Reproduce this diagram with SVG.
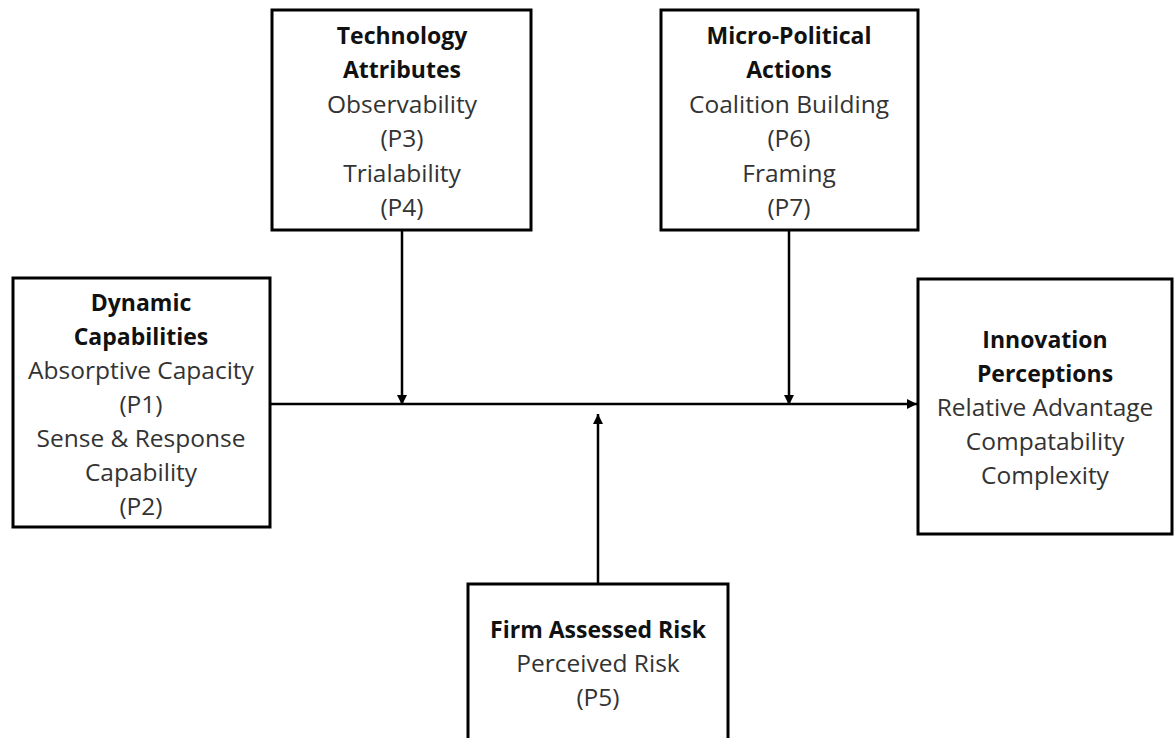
<svg xmlns="http://www.w3.org/2000/svg" width="1175" height="738" viewBox="0 0 1175 738">
<style>
.box{fill:#fff;stroke:#000;stroke-width:3}
.t{font-family:"Open Sans","Liberation Sans",sans-serif;font-size:24.5px;text-anchor:middle;fill:#333}
.b{font-weight:bold;font-size:23px;fill:#111}
.c{stroke:#000;stroke-width:2.5;fill:none}
</style>
<defs>
<marker id="ah" viewBox="0 0 10 10" refX="10" refY="5" markerWidth="4" markerHeight="4" orient="auto" markerUnits="strokeWidth">
<path d="M0,0 L10,5 L0,10 z" fill="#000"/>
</marker>
</defs>
<rect width="1175" height="738" fill="#fff"/>
<g id="connectors">
<line class="c" x1="270" y1="404" x2="917" y2="404" marker-end="url(#ah)"/>
<line class="c" x1="402" y1="231" x2="402" y2="405" marker-end="url(#ah)"/>
<line class="c" x1="789" y1="231" x2="789" y2="405" marker-end="url(#ah)"/>
<line class="c" x1="598" y1="584" x2="598" y2="414" marker-end="url(#ah)"/>
</g>
<g id="technology">
<rect class="box" x="272" y="10" width="259" height="220"/>
<text class="t b" x="402" y="44">Technology</text>
<text class="t b" x="402" y="78">Attributes</text>
<text class="t" x="402" y="113">Observability</text>
<text class="t" x="402" y="147">(P3)</text>
<text class="t" x="402" y="182">Trialability</text>
<text class="t" x="402" y="216">(P4)</text>
</g>
<g id="micropolitical">
<rect class="box" x="661" y="10" width="257" height="220"/>
<text class="t b" x="789" y="44">Micro-Political</text>
<text class="t b" x="789" y="78">Actions</text>
<text class="t" x="789" y="113">Coalition Building</text>
<text class="t" x="789" y="147">(P6)</text>
<text class="t" x="789" y="182">Framing</text>
<text class="t" x="789" y="216">(P7)</text>
</g>
<g id="dynamic">
<rect class="box" x="13" y="278" width="257" height="249"/>
<text class="t b" x="141" y="311">Dynamic</text>
<text class="t b" x="141" y="345">Capabilities</text>
<text class="t" x="141" y="379">Absorptive Capacity</text>
<text class="t" x="141" y="413">(P1)</text>
<text class="t" x="141" y="447">Sense &amp; Response</text>
<text class="t" x="141" y="481">Capability</text>
<text class="t" x="141" y="515">(P2)</text>
</g>
<g id="innovation">
<rect class="box" x="918" y="279" width="254" height="255"/>
<text class="t b" x="1045" y="348">Innovation</text>
<text class="t b" x="1045" y="382">Perceptions</text>
<text class="t" x="1045" y="416">Relative Advantage</text>
<text class="t" x="1045" y="450">Compatability</text>
<text class="t" x="1045" y="484">Complexity</text>
</g>
<g id="firm">
<rect class="box" x="468" y="584" width="260" height="170"/>
<text class="t b" x="598" y="638">Firm Assessed Risk</text>
<text class="t" x="598" y="672">Perceived Risk</text>
<text class="t" x="598" y="706">(P5)</text>
</g>
</svg>
